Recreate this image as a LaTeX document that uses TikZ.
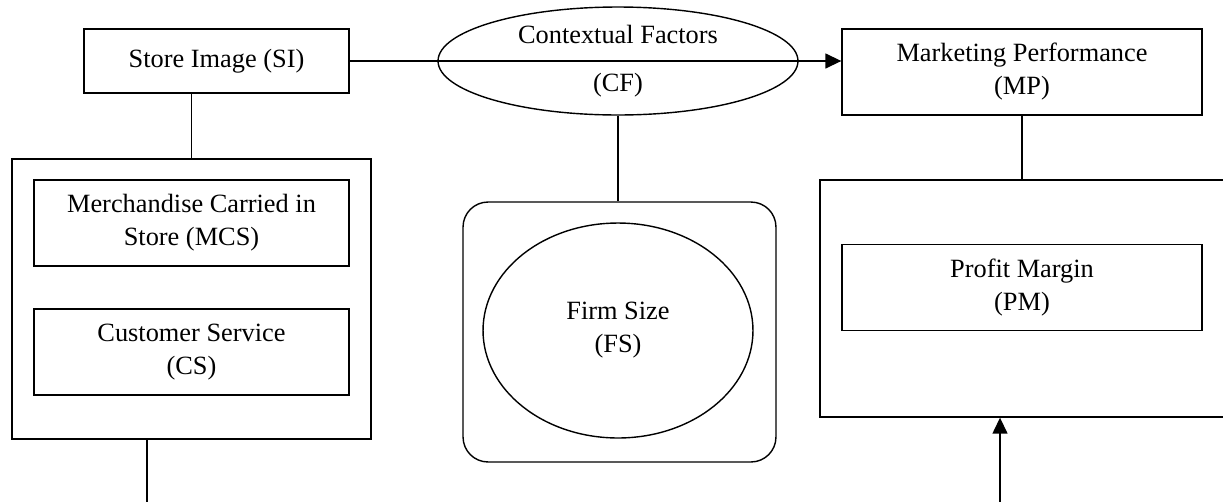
\documentclass[tikz,border=0pt]{standalone}
\usepackage{fontspec}
\setmainfont{Liberation Serif}
\usepackage{tikz}
\usetikzlibrary{shapes.geometric, arrows.meta, positioning, calc}

\begin{document}
\begin{tikzpicture}[
  x=0.02cm, y=-0.02cm,
  line width=0.8pt,
  textfont/.style={font=\fontsize{15}{18.8}\selectfont, align=center},
  factorbox/.style={rectangle, draw=black, inner sep=0pt, minimum width=#1, minimum height=1.72cm, textfont},
  groupbox/.style={rectangle, draw=black, inner sep=0pt},
  factoroval/.style={ellipse, draw=black, inner sep=0pt, textfont},
  linkarrow/.style={-{Triangle[length=0.32cm, width=0.3cm]}}
]
  % Frame of the picture
  \clip (0,0) rectangle (1223,501);

  % Top row
  \node[factorbox=5.3cm, minimum height=1.28cm] (si) at (216.5,61) {Store Image (SI)};
  \node[factoroval, minimum width=7.2cm, minimum height=2.16cm] (cf) at (618,61) {Contextual Factors\\[0.3cm](CF)};
  \node[factorbox=7.2cm] (mp) at (1022,72) {Marketing Performance\\(MP)};

  % Store image group
  \node[groupbox, minimum width=7.18cm, minimum height=5.6cm] (sigroup) at (191.5,299) {};
  \node[factorbox=6.3cm] (mcs) at (191.5,223) {Merchandise Carried in\\Store (MCS)};
  \node[factorbox=6.3cm] (cs) at (191.5,352) {Customer Service\\(CS)};

  % Contextual factors group
  \node[groupbox, rounded corners=0.5cm, minimum width=6.26cm, minimum height=5.2cm] (cfgroup) at (619.5,332) {};
  \node[factoroval, minimum width=5.4cm, minimum height=4.3cm] (fs) at (618,330.5) {Firm Size\\(FS)};

  % Marketing performance group
  \node[groupbox, minimum width=8.12cm, minimum height=4.74cm] (mpgroup) at (1023,298.5) {};
  \node[factorbox=7.2cm] (pm) at (1022,287.5) {Profit Margin\\(PM)};

  % Free ends at the bottom edge
  \coordinate (siend) at (147,505);
  \coordinate (mpend) at (1000,505);

  % Connectors
  \draw[linkarrow] (si.east) -- (si.east -| mp.west);
  \draw (sigroup.north) -- (sigroup.north |- si.south);
  \draw (cf.south) -- (cf.south |- cfgroup.north);
  \draw (mp.south) -- (mp.south |- mpgroup.north);
  \draw (siend |- sigroup.south) -- (siend);
  \draw[linkarrow] (mpend) -- (mpend |- mpgroup.south);
\end{tikzpicture}
\end{document}
